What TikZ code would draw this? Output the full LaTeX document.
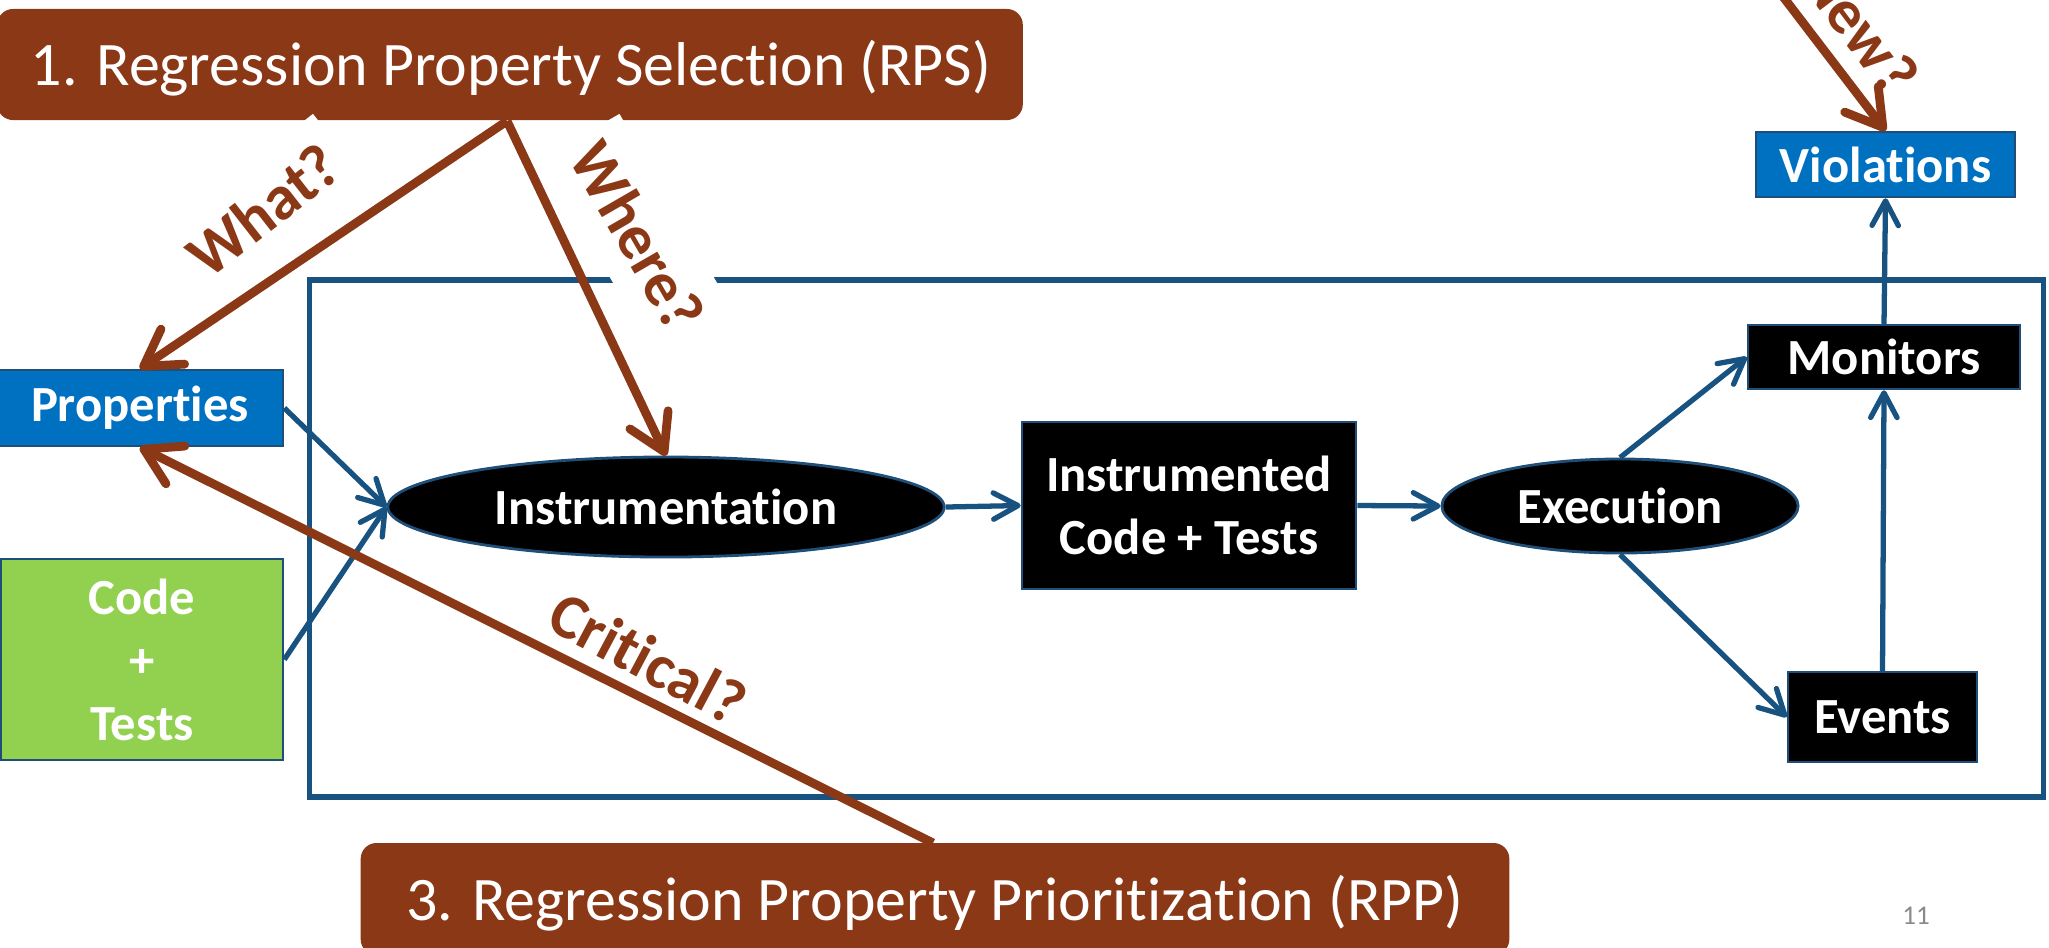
\documentclass[tikz,border=0pt]{standalone}
\usepackage{fontspec}
\setmainfont{Carlito}[Ligatures={NoCommon}]
\usetikzlibrary{arrows.meta,shapes.geometric}
\definecolor{brn}{RGB}{138,56,22}
\definecolor{lineblue}{RGB}{24,82,128}
\definecolor{pptblue}{RGB}{0,112,192}
\definecolor{pptgreen}{RGB}{146,208,80}
\definecolor{edgeblue}{RGB}{31,78,121}
\definecolor{pagegray}{RGB}{137,137,137}
\begin{document}
\begin{tikzpicture}[x=0.01cm,y=-0.01cm,
  nodefont/.style={font=\bfseries\fontsize{14.4}{17.9}\selectfont},
  bluebox/.style={rectangle, draw=edgeblue, line width=0.7pt, fill=pptblue, text=white, nodefont, inner sep=0pt, align=center},
  greenbox/.style={bluebox, fill=pptgreen},
  blackbox/.style={bluebox, fill=black},
  blackoval/.style={ellipse, draw=edgeblue, line width=0.8pt, fill=black, text=white, nodefont, inner sep=0pt},
  stagebox/.style={rectangle, rounded corners=4.5pt, fill=brn, inner sep=0pt},
  heading/.style={text=white, font=\fontsize{17.6}{21}\selectfont, anchor=base, inner sep=0pt},
  qlabel/.style={text=brn, fill=white, font=\bfseries\fontsize{18}{21.6}\selectfont, inner xsep=3.4pt, inner ysep=0pt, minimum height=25.6pt},
  flow/.style={draw=lineblue, line width=1.5pt, -{Straight Barb[length=7pt,width=7.5pt,round]}},
  ask/.style={draw=brn, line width=2.5pt, -{Straight Barb[length=10pt,width=12pt,round]}},
  framebox/.style={draw=lineblue, line width=1.6pt, inner sep=0pt}
]
\useasboundingbox (0,0) rectangle (2049,947);

% outer frame
\node[framebox, minimum width=17.33cm, minimum height=5.17cm] (frame) at (1176.5,538.5) {};

% stage boxes
\node[stagebox, minimum width=10.25cm, minimum height=1.11cm] (rps) at (510,64.5) {};
\node[heading] (rpstext) at (511,85) {1. Regression Property Selection (RPS)};
\node[stagebox, minimum width=11.48cm, minimum height=1.12cm] (rpp) at (935,899) {};
\node[heading] (rpptext) at (935,920) {3. Regression Property Prioritization (RPP)};

% nodes
\node[bluebox, minimum width=2.86cm, minimum height=0.76cm] (prop) at (140,408) {Properties};
\node[greenbox, minimum width=2.82cm, minimum height=2.01cm] (code) at (142,659.5) {Code\\+\\Tests};
\node[blackoval, minimum width=5.56cm, minimum height=1.00cm] (instr) at (666,507) {Instrumentation};
\node[blackbox, minimum width=3.34cm, minimum height=1.67cm] (icode) at (1189,505.5) {Instrumented\\Code + Tests};
\node[blackoval, minimum width=3.56cm, minimum height=0.94cm] (exec) at (1620,506) {Execution};
\node[blackbox, minimum width=2.72cm, minimum height=0.64cm] (mon) at (1884,357) {Monitors};
\node[blackbox, minimum width=1.89cm, minimum height=0.90cm] (evt) at (1882.5,717) {Events};
\node[bluebox, minimum width=2.59cm, minimum height=0.65cm] (viol) at (1885.5,164.5) {Violations};

% question labels
\node[qlabel, rotate=38] (what) at (263,210) {What?};
\node[qlabel, rotate=-60] (where) at (638,236) {Where?};
\node[qlabel, rotate=-28] (crit) at (648,658) {Critical?};
\node[qlabel, rotate=-53] (new) at (1860,27) {New?};

% page number
\node[text=pagegray, font=\fontsize{7.7}{9}\selectfont, anchor=base, inner sep=0pt] (pnum) at (1916,924) {11};

% blue flow
\draw[flow] (prop.east) -- (instr.west);
\draw[flow] (code.east) -- (instr.west);
\draw[flow] (instr.east) -- (icode.west);
\draw[flow] (icode.east) -- (exec.west);
\draw[flow] (exec.north) -- (mon.west);
\draw[flow] (exec.south) -- (evt.west);
\draw[flow] (evt.north) -- (mon.south);
\draw[flow] (mon.north) -- (viol.south);

% brown arrows
\coordinate (rpsout) at (507,121);
\coordinate (rppout) at (933,843);
\coordinate (newsrc) at (1755,-40);
\draw[ask] (rpsout) -- (prop.north);
\draw[ask] (rpsout) -- (instr.north);
\draw[ask] (rppout) -- (prop.south);
\draw[ask] (newsrc) -- (viol.north);
\end{tikzpicture}
\end{document}
